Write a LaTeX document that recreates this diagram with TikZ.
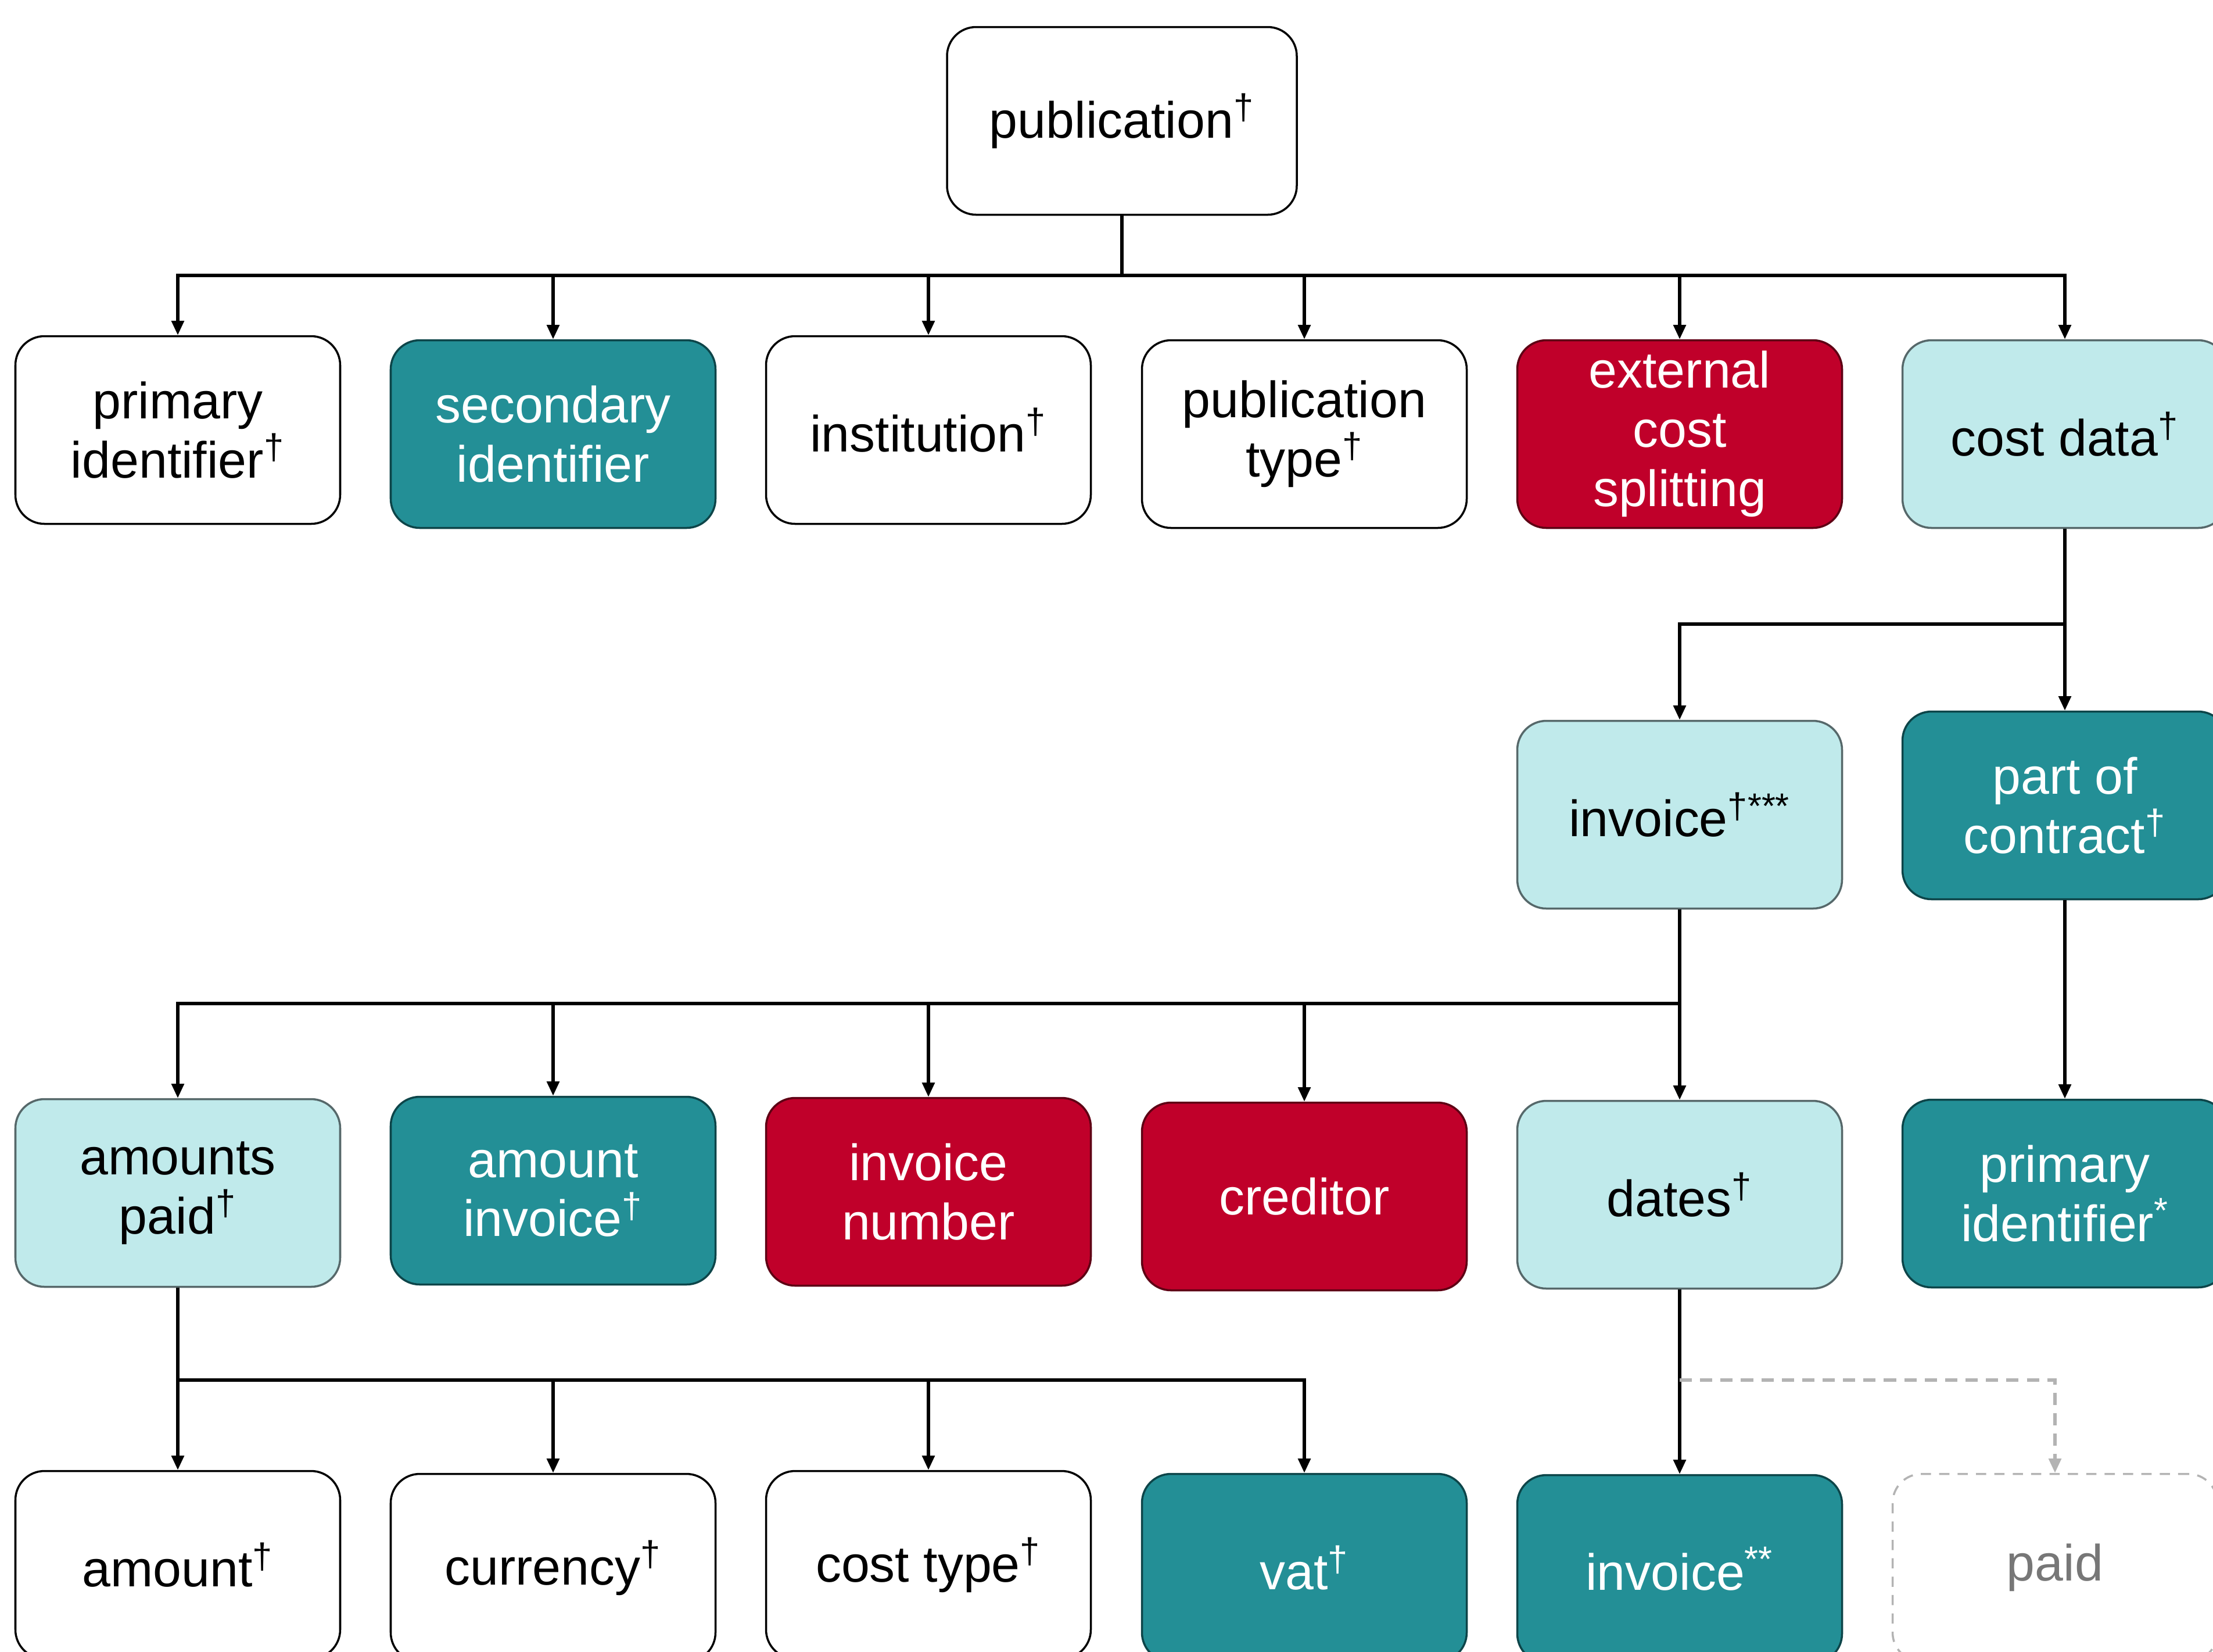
\documentclass[tikz,border=0pt]{standalone}
\usepackage{fontspec}
\setmainfont{Liberation Sans}
\usetikzlibrary{arrows.meta}

\definecolor{tealfill}{HTML}{238F96}
\definecolor{tealedge}{HTML}{0D4549}
\definecolor{redfill}{HTML}{C0002A}
\definecolor{rededge}{HTML}{5E0014}
\definecolor{lightfill}{HTML}{C0EAEB}
\definecolor{lightedge}{HTML}{56686A}
\definecolor{ghostline}{HTML}{B3B3B3}
\definecolor{ghosttext}{HTML}{777777}

\tikzset{
	box/.style={rounded corners=0.5cm, minimum width=5.59cm, minimum height=3.23cm, align=center, line width=1pt, font=\fontsize{25}{29}\selectfont},
	plainbox/.style={box, draw=black, fill=white},
	tealbox/.style={box, draw=tealedge, fill=tealfill, text=white},
	redbox/.style={box, draw=rededge, fill=redfill, text=white},
	lightbox/.style={box, draw=lightedge, fill=lightfill},
	ghostbox/.style={box, draw=ghostline, dash pattern=on 5pt off 4pt, text=ghosttext},
	link/.style={line width=1.5pt, -{Triangle[length=7pt,width=6pt]}},
	ghostlink/.style={link, color=ghostline, dash pattern=on 6pt off 4pt}
}
\newcommand{\dg}{\textsuperscript{\textdagger}}

\begin{document}
\begin{tikzpicture}
	\useasboundingbox (0,0) rectangle (38.09,-28.42);

	\node[plainbox, minimum width=6.02cm] (pub) at (19.31,-2.08) {publication\dg};

	\node[plainbox] (primid) at (3.06,-7.40) {primary\\identifier\dg};
	\node[tealbox] (secid) at (9.52,-7.47) {secondary\\identifier};
	\node[plainbox] (inst) at (15.98,-7.40) {institution\dg};
	\node[plainbox] (pubtype) at (22.45,-7.47) {publication\\type\dg};
	\node[redbox] (extcost) at (28.91,-7.47) {external\\cost\\splitting};
	\node[lightbox] (costdata) at (35.54,-7.47) {cost data\dg};

	\node[lightbox] (invoice) at (28.91,-14.02) {invoice\textsuperscript{\textdagger***}};
	\node[tealbox] (contract) at (35.54,-13.86) {part of\\contract\dg};

	\node[lightbox] (amtpaid) at (3.06,-20.53) {amounts\\paid\dg};
	\node[tealbox] (amtinv) at (9.52,-20.49) {amount\\invoice\dg};
	\node[redbox] (invnum) at (15.98,-20.51) {invoice\\number};
	\node[redbox] (creditor) at (22.45,-20.59) {creditor};
	\node[lightbox] (dates) at (28.91,-20.56) {dates\dg};
	\node[tealbox] (primidstar) at (35.54,-20.54) {primary\\identifier\textsuperscript{*}};

	\node[plainbox] (amount) at (3.06,-26.93) {amount\dg};
	\node[plainbox] (currency) at (9.52,-26.98) {currency\dg};
	\node[plainbox] (costtype) at (15.98,-26.93) {cost type\dg};
	\node[tealbox] (vat) at (22.45,-26.98) {vat\dg};
	\node[tealbox] (invoicestar) at (28.91,-27.00) {invoice\textsuperscript{**}};
	\node[ghostbox] (paid) at (35.37,-26.98) {paid};

	\coordinate (bustop) at (0,-4.74);
	\coordinate (buscost) at (0,-10.74);
	\coordinate (businv) at (0,-17.27);
	\coordinate (busamt) at (0,-23.75);

	\foreach \n in {primid,secid,inst,pubtype,extcost,costdata}{
			\draw[link] (pub.south) -- (pub.south |- bustop) -| (\n.north);
		}
	\foreach \n in {invoice,contract}{
			\draw[link] (costdata.south) -- (costdata.south |- buscost) -| (\n.north);
		}
	\foreach \n in {amtpaid,amtinv,invnum,creditor,dates}{
			\draw[link] (invoice.south) -- (invoice.south |- businv) -| (\n.north);
		}
	\draw[link] (contract.south) -- (primidstar.north);
	\foreach \n in {amount,currency,costtype,vat}{
			\draw[link] (amtpaid.south) -- (amtpaid.south |- busamt) -| (\n.north);
		}
	\draw[link] (dates.south) -- (invoicestar.north);
	\draw[ghostlink] (dates.south |- busamt) -| (paid.north);

\end{tikzpicture}
\end{document}
